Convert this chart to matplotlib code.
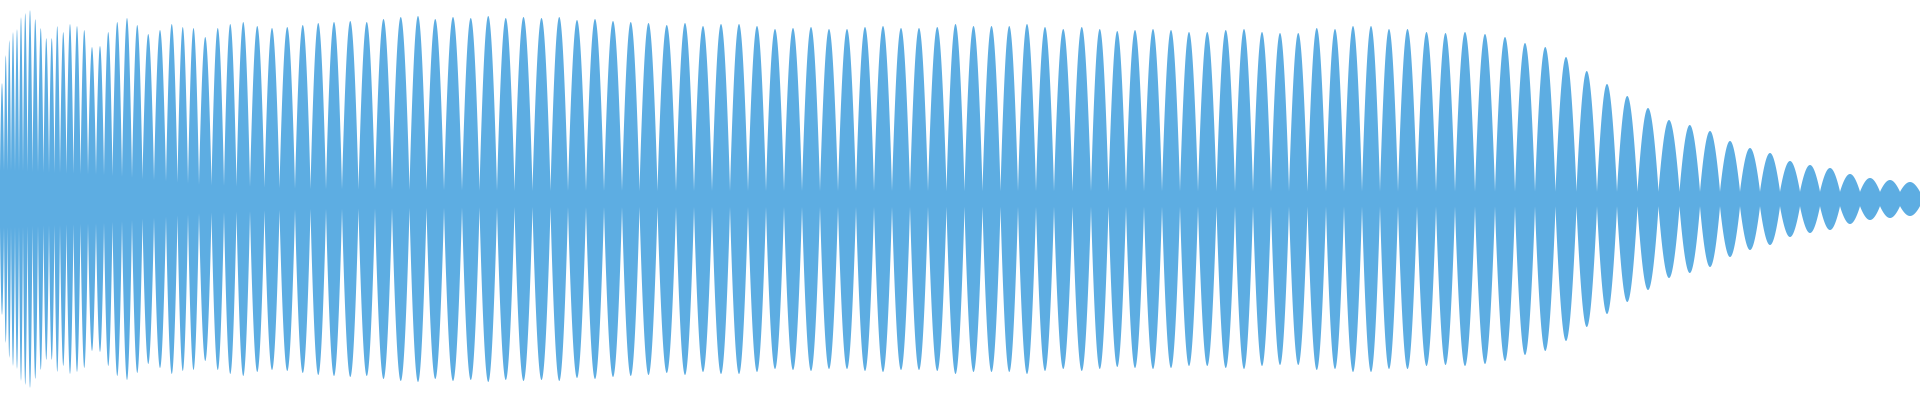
import numpy as np
import matplotlib
matplotlib.use("Agg")
import matplotlib.pyplot as plt

# Lobe centres (sample position, px scale 0-1920) and peak half-amplitudes (0-200)
centers = [2, 6, 9, 13, 17, 21, 25, 30, 35, 41, 46, 52, 57, 63, 70, 77, 84, 92, 100, 108,
           117, 127, 137, 148, 160, 172, 183, 193, 205, 218, 230, 243, 257, 272, 287,
           303, 318, 334, 350, 367, 383, 401, 418, 435, 453, 471, 488, 506, 523, 542, 559,
           577, 595, 613, 631, 648, 667, 685,
           703, 721, 739, 757, 775, 793, 811, 829, 847, 865, 883, 901, 919, 937, 956, 973,
           992, 1009, 1027, 1045, 1063, 1082,
           1100, 1117, 1135, 1153, 1171, 1189, 1207, 1226, 1244, 1262, 1280, 1298, 1317,
           1335, 1353, 1371, 1389, 1407, 1427, 1445, 1465, 1485,
           1505, 1525, 1545, 1566, 1587, 1607, 1627, 1648, 1669, 1690, 1710, 1730, 1750,
           1770, 1790, 1810, 1830, 1850, 1870, 1890, 1910]
peaks = [116, 144, 159, 167, 170, 182, 186, 189, 180, 171, 161, 161, 173, 167, 175, 173,
         169, 152, 153, 167, 177, 181, 174, 165, 169, 175, 172, 171, 162, 171, 175, 177,
         173, 171, 172,
         174, 176, 177, 178, 177, 180, 182, 183, 180, 182, 181, 183, 181, 182, 181, 182,
         179, 180, 178, 177, 176, 174, 176,
         173, 175, 175, 173, 170, 171, 172, 170, 170, 172, 173, 171, 171, 172, 175, 173,
         173, 173, 175, 172, 170, 172,
         170, 168, 169, 170, 169, 167, 167, 169, 170, 167, 166, 166, 171, 170, 173, 173,
         170, 170, 167, 166, 167, 165,
         162, 156, 152, 142, 128, 115, 103, 91, 79, 74, 68, 58, 51, 46, 38, 34, 31, 25,
         21, 19, 17]
# baseline band half-height at a few positions
floor_x = [0, 100, 200, 300, 500, 1920]
floor_y = [28, 24, 14, 10, 8, 7]

c = np.array(centers, float)
h = np.array(peaks, float)
bounds = np.concatenate([[c[0] - (c[1] - c[0]) / 2], (c[:-1] + c[1:]) / 2, [c[-1] + (c[-1] - c[-2]) / 2]])

x = np.arange(0, 1920.01, 0.25)
idx = np.clip(np.searchsorted(bounds, x) - 1, 0, len(c) - 1)
t = (x - bounds[idx]) / (bounds[idx + 1] - bounds[idx])
t = np.clip(t, 0, 1)
fl = np.interp(x, floor_x, floor_y)
env = fl + (h[idx] - fl) * np.sin(np.pi * t) ** 0.9
env = np.maximum(env, fl)

fig = plt.figure(figsize=(19.2, 4), dpi=100)
ax = fig.add_axes([0, 0, 1, 1])
ax.fill_between(x, -env, env, color="#5DADE2", linewidth=0)
ax.set_xlim(0, 1920)
ax.set_ylim(-201, 199)
ax.axis("off")
fig.savefig("out.png", dpi=100, facecolor="white")
